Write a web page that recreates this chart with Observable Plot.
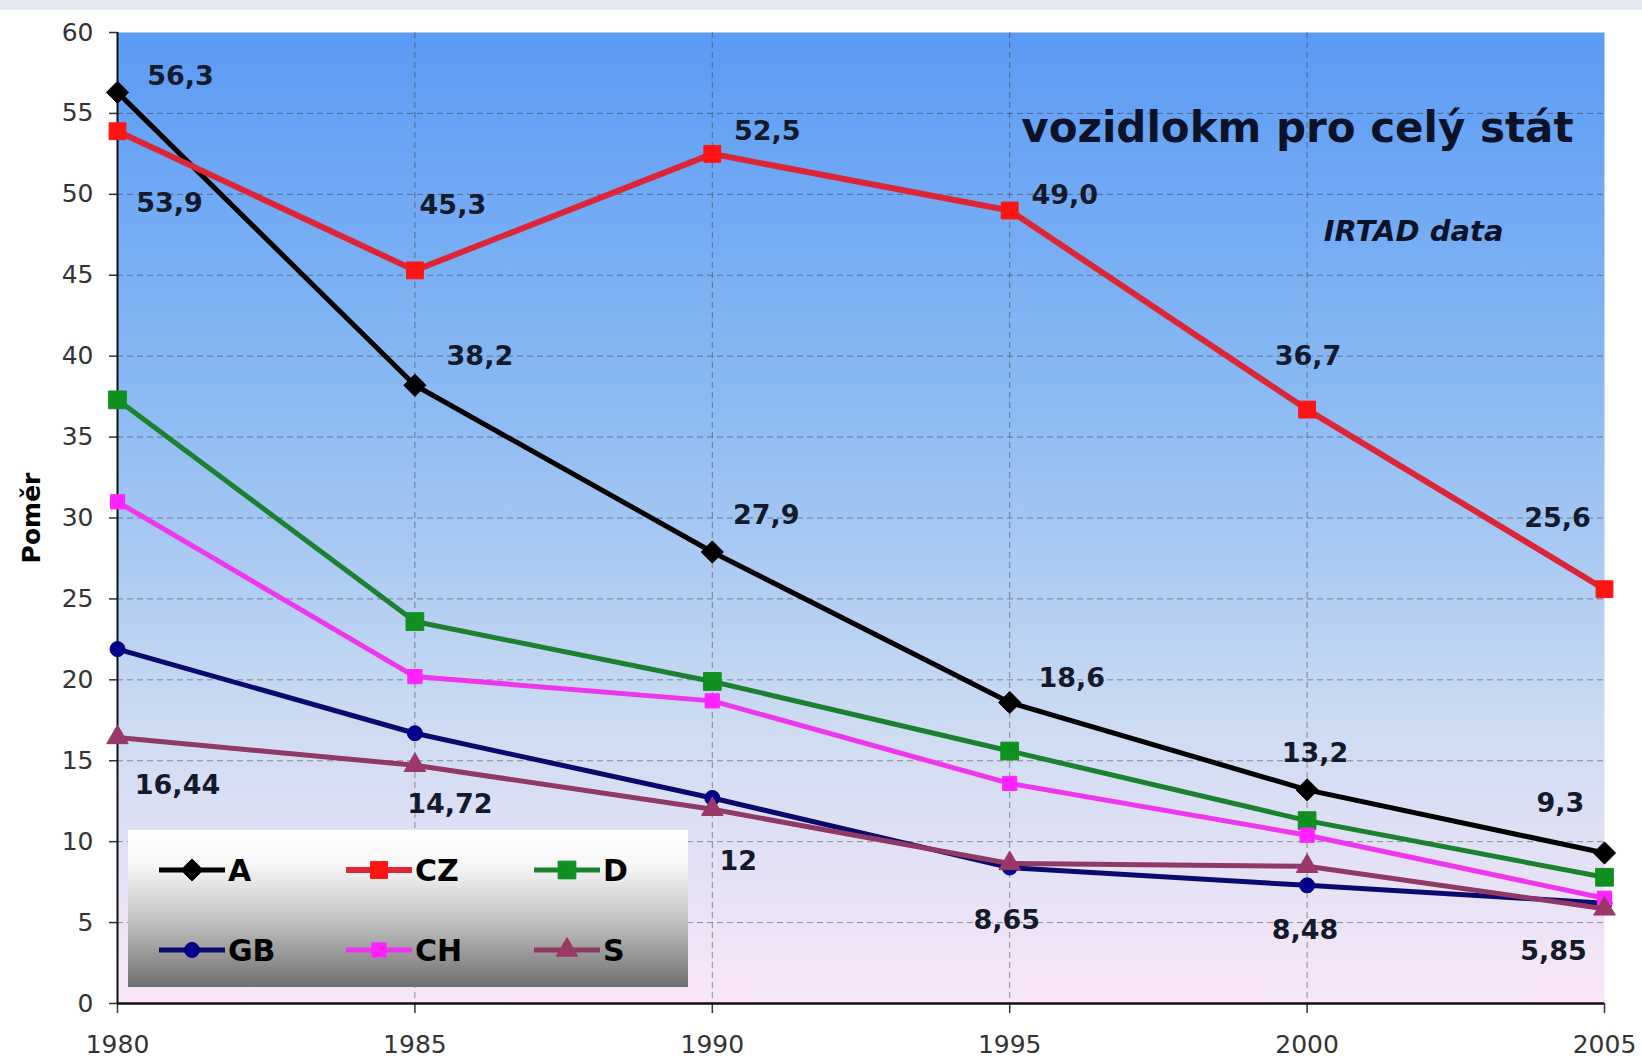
<!DOCTYPE html>
<html>
<head>
<meta charset="utf-8">
<script src="https://cdn.jsdelivr.net/npm/d3@7"></script>
<script src="https://cdn.jsdelivr.net/npm/@observablehq/plot@0.6"></script>
<style>
  body { margin: 0; background: #fff; }
  #wrap { position: relative; width: 1642px; height: 1061px;
          background: linear-gradient(#e4e8ee 0px, #e4e8ee 10px, #ffffff 10px); }
  #legend { position: absolute; left: 128px; top: 830px; width: 560px; height: 157px;
            background: linear-gradient(#ffffff 0%, #f7f7f7 22%, #bebebe 60%, #6f6f6f 100%); }
</style>
</head>
<body>
<div id="wrap"><div id="legend"></div></div>
<script>
// ---------- data ----------
const years = [1980, 1985, 1990, 1995, 2000, 2005];
const seriesNames = ["A", "CZ", "D", "GB", "CH", "S"];
const valuesA  = [56.3, 38.2, 27.9, 18.6, 13.2, 9.3];
const valuesCZ = [53.9, 45.3, 52.5, 49.0, 36.7, 25.6];
const valuesD  = [37.3, 23.6, 19.9, 15.6, 11.3, 7.8];
const valuesGB = [21.9, 16.7, 12.7, 8.4, 7.3, 6.2];
const valuesCH = [31.0, 20.2, 18.7, 13.6, 10.4, 6.5];
const valuesS  = [16.44, 14.72, 12, 8.65, 8.48, 5.85];
const labelsA  = ["56,3", "38,2", "27,9", "18,6", "13,2", "9,3"];
const labelsCZ = ["53,9", "45,3", "52,5", "49,0", "36,7", "25,6"];
const labelsS  = ["16,44", "14,72", "12", "8,65", "8,48", "5,85"];
const yTicks = [0, 5, 10, 15, 20, 25, 30, 35, 40, 45, 50, 55, 60];
const yLabel = "Poměr";
const titleText = "vozidlokm pro celý stát";
const sourceText = "IRTAD data";

// ---------- styles / layout ----------
const valuesBySeries = {A: valuesA, CZ: valuesCZ, D: valuesD, GB: valuesGB, CH: valuesCH, S: valuesS};
const seriesStyle = {
  A:  {line: "#000000", fill: "#000000", symbol: "diamond2", r: 10,  width: 5},
  CZ: {line: "#dc2638", fill: "#ff1414", symbol: "square",   r: 9.5, width: 6},
  D:  {line: "#1b8030", fill: "#109020", symbol: "square",   r: 10,  width: 5},
  GB: {line: "#0a0a6e", fill: "#00008c", symbol: "circle",   r: 7.5, width: 5},
  CH: {line: "#ee36ee", fill: "#ff22ff", symbol: "square",   r: 8,   width: 5},
  S:  {line: "#8e3a64", fill: "#9a3868", symbol: "triangle", r: 8,   width: 5}
};
// label offsets (px) relative to their points
const labelOffsetsA  = [[63, -16], [65, -29], [54, -37], [62, -24], [8, -37], [-44, -50]];
const labelOffsetsCZ = [[52, 72], [38, -65], [55, -23], [55, -15], [1, -53], [-47, -71]];
const labelOffsetsS  = [[60, 48], [35, 39], [26, 52], [-3, 57], [-2, 64], [-51, 43]];

const table = seriesNames.flatMap(s => years.map((yr, i) => ({series: s, year: yr, value: valuesBySeries[s][i]})));

const labelMarks = [];
function addLabels(series, labels, offsets) {
  years.forEach((yr, i) => {
    labelMarks.push(Plot.text([{year: yr, value: valuesBySeries[series][i], label: labels[i]}], {
      x: "year", y: "value", text: "label",
      dx: offsets[i][0], dy: offsets[i][1],
      fontSize: 27, fontWeight: "bold", fill: "#131a2c", lineAnchor: "middle", textAnchor: "middle"
    }));
  });
}
addLabels("A", labelsA, labelOffsetsA);
addLabels("CZ", labelsCZ, labelOffsetsCZ);
addLabels("S", labelsS, labelOffsetsS);

const seriesMarks = seriesNames.flatMap(s => {
  const st = seriesStyle[s];
  const rows = table.filter(d => d.series === s);
  return [
    Plot.line(rows, {x: "year", y: "value", stroke: st.line, strokeWidth: st.width, strokeLinejoin: "round"}),
    Plot.dot(rows, {x: "year", y: "value", symbol: st.symbol, r: st.r, fill: st.fill, stroke: st.fill, strokeWidth: 1})
  ];
});

const grid = {stroke: "#333", strokeOpacity: 0.5, strokeDasharray: "6,4", strokeWidth: 1};

const chart = Plot.plot({
  width: 1642,
  height: 1061,
  marginLeft: 117,
  marginRight: 38,
  marginTop: 32,
  marginBottom: 58,
  style: {background: "transparent", fontFamily: "DejaVu Sans", color: "#333"},
  x: {domain: [1980, 2005]},
  y: {domain: [0, 60]},
  marks: [
    Plot.frame({fill: "url(#plotBg)", stroke: "none"}),
    Plot.gridY(yTicks.filter(v => v > 0 && v < 60), grid),
    Plot.gridX(years.slice(1, -1), grid),
    Plot.axisY(yTicks, {tickSize: 8, tickPadding: 16, fontSize: 25, label: null, strokeWidth: 1.5}),
    Plot.axisX(years, {tickSize: 10, tickPadding: 22, fontSize: 25, label: null, tickFormat: d => String(d), strokeWidth: 1.5}),
    Plot.ruleX([1980], {stroke: "#111", strokeWidth: 2}),
    Plot.ruleY([0], {stroke: "#111", strokeWidth: 2.5}),
    ...seriesMarks,
    ...labelMarks,
    Plot.text([titleText], {frameAnchor: "top-right", textAnchor: "end", lineAnchor: "middle",
      dx: -31, dy: 96, fontSize: 42, fontWeight: "bold", fill: "#0c1328"}),
    Plot.text([sourceText], {frameAnchor: "top-right", textAnchor: "end", lineAnchor: "middle",
      dx: -101, dy: 199, fontSize: 29, fontWeight: "bold", fontStyle: "italic", fill: "#0c1328"}),
    Plot.text([yLabel], {frameAnchor: "left", rotate: -90, dx: -86, lineAnchor: "middle", textAnchor: "middle",
      fontSize: 25, fontWeight: "bold", fill: "#000"})
  ]
});

d3.select(chart).insert("defs", ":first-child").html(`
  <linearGradient id="plotBg" x1="0" y1="0" x2="0" y2="1">
    <stop offset="0%" stop-color="#5b9bf5"/>
    <stop offset="40%" stop-color="#8ebcf3"/>
    <stop offset="72%" stop-color="#cedcf2"/>
    <stop offset="100%" stop-color="#fae6f8"/>
  </linearGradient>`);

document.getElementById("wrap").prepend(chart);

// ---------- legend ----------
const legendLayout = [
  {s: "A",  row: 0, col: 0}, {s: "CZ", row: 0, col: 1}, {s: "D", row: 0, col: 2},
  {s: "GB", row: 1, col: 0}, {s: "CH", row: 1, col: 1}, {s: "S", row: 1, col: 2}
];
const colX = [31, 218, 406];
const rowY = [40, 120];
const symbolMap = {diamond2: d3.symbolDiamond2, square: d3.symbolSquare, circle: d3.symbolCircle, triangle: d3.symbolTriangle};
const lg = d3.select("#legend").append("svg").attr("width", 560).attr("height", 157)
  .style("font-family", "DejaVu Sans");
legendLayout.forEach(it => {
  const st = seriesStyle[it.s];
  const x0 = colX[it.col], y0 = rowY[it.row];
  const g = lg.append("g").attr("transform", `translate(${x0},${y0})`);
  g.append("line").attr("x1", 0).attr("x2", 66).attr("y1", 0).attr("y2", 0)
    .attr("stroke", st.line).attr("stroke-width", st.width);
  g.append("path").attr("transform", "translate(33,0)")
    .attr("d", d3.symbol(symbolMap[st.symbol], Math.PI * st.r * st.r)())
    .attr("fill", st.fill).attr("stroke", st.fill);
  g.append("text").attr("x", 69).attr("y", 0).attr("dy", "0.36em")
    .attr("font-size", 30).attr("font-weight", "bold").attr("fill", "#000").text(it.s);
});
</script>
</body>
</html>
